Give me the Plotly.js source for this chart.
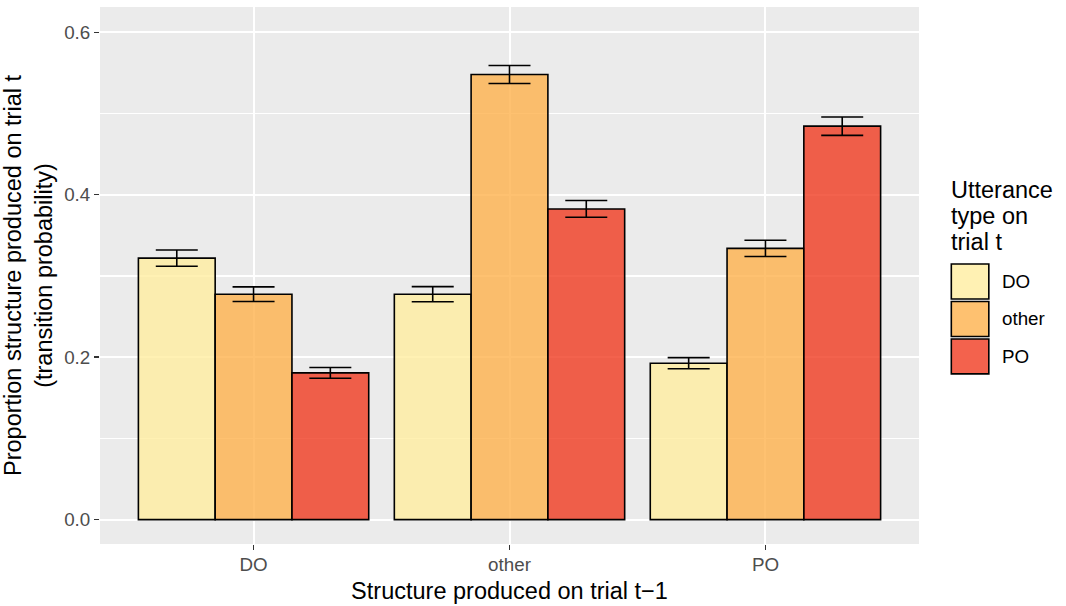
<!DOCTYPE html>
<html>
<head>
<meta charset="utf-8">
<script src="https://cdn.plot.ly/plotly-3.0.1.min.js"></script>
<style>html,body{margin:0;padding:0;background:#fff;}#chart{width:1066px;height:606px;}</style>
</head>
<body>
<div id="chart"></div>
<script>
// ---- data ----
var categories = ['DO', 'other', 'PO'];            // structure on trial t-1
var seriesNames = ['DO', 'other', 'PO'];           // utterance type on trial t
var valuesDO    = [0.322, 0.2775, 0.1926];
var valuesOther = [0.2775, 0.548, 0.334];
var valuesPO    = [0.1807, 0.3825, 0.4844];
var seDO    = [0.010, 0.0093, 0.0068];
var seOther = [0.0090, 0.011, 0.010];
var sePO    = [0.0066, 0.0103, 0.0113];
var seriesColors = ['rgba(255,237,160,0.8)', 'rgba(254,178,76,0.8)', 'rgba(240,59,32,0.8)'];
var legendTitleLines = ['Utterance', 'type on', 'trial t'];

var allValues = [valuesDO, valuesOther, valuesPO];
var allSE = [seDO, seOther, sePO];

var FONT = 'Liberation Sans, Arial, Helvetica, sans-serif';
var TITLE_SIZE = 23.5, TICK_SIZE = 18.8;

var traces = seriesNames.map(function (name, i) {
  return {
    type: 'bar',
    name: name,
    x: categories,
    y: allValues[i],
    marker: { color: seriesColors[i], line: { color: '#000000', width: 1.6 } },
    error_y: { type: 'data', array: allSE[i], visible: true, color: '#000000', thickness: 1.6, width: 21 },
    showlegend: false,
    hoverinfo: 'skip'
  };
});

// panel geometry in pixels (for legend placement)
var L = 100, R = 918.7, T = 6.7, B = 544.3;
function px(x) { return (x - L) / (R - L); }
function py(y) { return (B - y) / (B - T); }

var shapes = [], annotations = [];
// legend title
legendTitleLines.forEach(function (t, k) {
  annotations.push({
    xref: 'paper', yref: 'paper', x: px(949), y: py(190 + k * 26),
    xanchor: 'left', yanchor: 'middle', showarrow: false, text: t,
    font: { family: FONT, size: TITLE_SIZE, color: '#000000' }
  });
});
// legend keys
seriesNames.forEach(function (name, i) {
  var top = 264 + i * 37.5;
  shapes.push({
    type: 'rect', xref: 'paper', yref: 'paper',
    x0: px(951), x1: px(988.5), y0: py(top), y1: py(top + 35),
    fillcolor: seriesColors[i], line: { color: '#000000', width: 1.6 }
  });
  annotations.push({
    xref: 'paper', yref: 'paper', x: px(1000), y: py(top + 17.5),
    xanchor: 'left', yanchor: 'middle', showarrow: false, text: name,
    font: { family: FONT, size: TICK_SIZE, color: '#000000' }
  });
});

var layout = {
  width: 1066, height: 606,
  margin: { l: L, r: 1066 - R, t: T, b: 606 - B, pad: 0 },
  paper_bgcolor: '#ffffff',
  plot_bgcolor: '#EBEBEB',
  barmode: 'group',
  bargap: 0.1,
  bargroupgap: 0,
  font: { family: FONT },
  showlegend: false,
  xaxis: {
    type: 'category',
    range: [-0.6, 2.6],
    showgrid: true, gridcolor: '#ffffff', gridwidth: 2,
    ticks: 'outside', ticklen: 5, tickwidth: 1.5, tickcolor: '#333333',
    ticklabelstandoff: -2,
    tickfont: { family: FONT, size: TICK_SIZE, color: '#4D4D4D' },
    showline: false, zeroline: false, fixedrange: true,
    title: { text: 'Structure produced on trial t\u22121', font: { family: FONT, size: TITLE_SIZE, color: '#000000' }, standoff: 8 }
  },
  yaxis: {
    range: [-0.0300, 0.6311],
    tick0: 0, dtick: 0.2, tickformat: '.1f',
    showgrid: true, gridcolor: '#ffffff', gridwidth: 2,
    minor: { dtick: 0.1, tick0: 0, showgrid: true, gridcolor: '#ffffff', gridwidth: 1.1, ticks: '' },
    ticks: 'outside', ticklen: 5, tickwidth: 1.5, tickcolor: '#333333',
    tickfont: { family: FONT, size: TICK_SIZE, color: '#4D4D4D' },
    showline: false, zeroline: false, fixedrange: true,
    title: { text: 'Proportion structure produced on trial t<br>(transition probability)', font: { family: FONT, size: TITLE_SIZE, color: '#000000' }, standoff: 10 }
  },
  shapes: shapes,
  annotations: annotations
};

Plotly.newPlot('chart', traces, layout, { displayModeBar: false, staticPlot: true });
</script>
</body>
</html>
